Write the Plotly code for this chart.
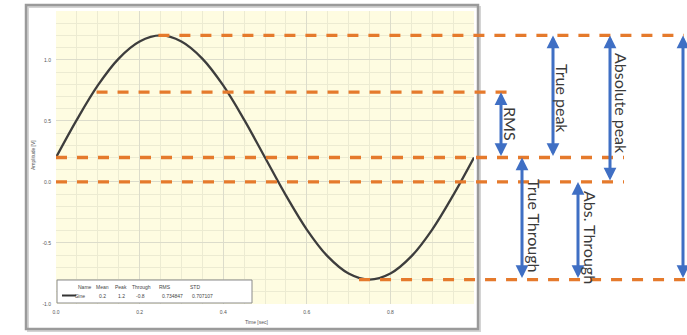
import plotly.graph_objects as go

# ---- data ----
time_s = [0.0, 0.05, 0.1, 0.15, 0.2, 0.25, 0.3, 0.35, 0.4, 0.45, 0.5,
          0.55, 0.6, 0.65, 0.7, 0.75, 0.8, 0.85, 0.9, 0.95, 1.0]
amplitude = [0.2, 0.51, 0.79, 1.01, 1.15, 1.2, 1.15, 1.01, 0.79, 0.51, 0.2,
             -0.11, -0.39, -0.61, -0.75, -0.8, -0.75, -0.61, -0.39, -0.11, 0.2]
stat_names = ["Name", "Mean", "Peak", "Through", "RMS", "STD"]
stat_values = ["Sine", "0.2", "1.2", "-0.8", "0.734847", "0.707107"]
MEAN = 0.2
PEAK = 1.2
TROUGH = -0.8
RMS = 0.734847
ZERO = 0.0
x_ticks = [0.0, 0.2, 0.4, 0.6, 0.8]
x_tick_text = ["0.0", "0.2", "0.4", "0.6", "0.8"]
y_ticks = [-1.0, -0.5, 0.0, 0.5, 1.0]
y_tick_text = ["-1.0", "-0.5", "0.0", "0.5", "1.0"]

# ---- layout geometry (page pixels) ----
FW, FH = 687, 335
L, R, T, B = 56, 474, 11, 304
W, H = R - L, B - T


def px(x):
    return (x - L) / W


def py(y):
    return (B - y) / H


ORANGE = "#E57A2C"
BLUE = "#3F6FC4"
TXT = "#3a3a3a"

fig = go.Figure()
fig.add_trace(go.Scatter(x=time_s, y=amplitude, mode="lines",
                         line=dict(color="#3d3d3d", width=2.3, shape="spline", smoothing=1.0),
                         showlegend=False, hoverinfo="skip"))

shapes = []
# outer panel frame (with a light shadow line)
shapes.append(dict(type="rect", xref="paper", yref="paper", x0=px(28), x1=px(480), y0=py(331), y1=py(7),
                   line=dict(color="#d4d4d4", width=2), fillcolor="rgba(0,0,0,0)", layer="below"))
shapes.append(dict(type="rect", xref="paper", yref="paper", x0=px(26), x1=px(478), y0=py(329), y1=py(5),
                   line=dict(color="#9a9a9a", width=2.5), fillcolor="rgba(0,0,0,0)", layer="below"))

dash = "11px,10px"
# horizontal reference lines: (value, start paper-x, end paper-x)
hlines = [
    (PEAK, 0.245, px(684)),
    (RMS, 0.097, px(516)),
    (MEAN, 0.0, px(624)),
    (ZERO, 0.0, px(624)),
    (TROUGH, 0.725, px(690)),
]
for val, xs, xe in hlines:
    shapes.append(dict(type="line", xref="paper", yref="y", x0=xs, x1=xe, y0=val, y1=val,
                       line=dict(color=ORANGE, width=3.3, dash=dash)))

# legend table box
shapes.append(dict(type="rect", xref="paper", yref="paper", x0=px(57), x1=px(252), y0=py(303), y1=py(280),
                   line=dict(color="#8a8a8a", width=1), fillcolor="white"))
shapes.append(dict(type="line", xref="paper", yref="paper", x0=px(62), x1=px(76), y0=py(295.5), y1=py(295.5),
                   line=dict(color="#333", width=2)))

annotations = []
# double arrows
arrows = [
    (501, RMS, MEAN),
    (553, PEAK, MEAN),
    (610, PEAK, ZERO),
    (683, PEAK, TROUGH),
    (522, MEAN, TROUGH),
    (578, ZERO, TROUGH),
]
for xp, ytop, ybot in arrows:
    annotations.append(dict(xref="paper", yref="y", x=px(xp), y=ytop, axref="pixel", ayref="y",
                            ax=0, ay=ybot, text="", showarrow=True, arrowside="end+start",
                            arrowhead=2, arrowsize=0.85, arrowwidth=3, arrowcolor=BLUE,
                            standoff=0, startstandoff=0))

labels = [
    ("RMS", 510, 124),
    ("True peak", 563, 98),
    ("Absolute peak", 622, 103),
    ("True Through", 535, 225),
    ("Abs. Through", 591, 237),
]
for txt, xp, yp in labels:
    annotations.append(dict(xref="paper", yref="paper", x=px(xp), y=py(yp), text=txt, showarrow=False,
                            textangle=90, font=dict(family="Lato", size=16, color=TXT),
                            xanchor="center", yanchor="middle"))

# legend table texts
hdr_x = [85, 102, 121, 141, 165, 195]
val_x = [80, 102, 121, 140, 172, 202]
for name, xp in zip(stat_names, hdr_x):
    annotations.append(dict(xref="paper", yref="paper", x=px(xp), y=py(286.5), text=name, showarrow=False,
                            font=dict(family="Liberation Sans", size=5, color="#444"),
                            xanchor="center", yanchor="middle"))
for v, xp in zip(stat_values, val_x):
    annotations.append(dict(xref="paper", yref="paper", x=px(xp), y=py(295.5), text=v, showarrow=False,
                            font=dict(family="Liberation Sans", size=5, color="#444"),
                            xanchor="center", yanchor="middle"))

# axis titles
annotations.append(dict(xref="paper", yref="paper", x=px(33), y=py(155), text="Amplitude [V]",
                        showarrow=False, textangle=-90,
                        font=dict(family="Liberation Sans", size=5, color="#555"),
                        xanchor="center", yanchor="middle"))
annotations.append(dict(xref="paper", yref="paper", x=px(256), y=py(322), text="Time [sec]",
                        showarrow=False, font=dict(family="Liberation Sans", size=5, color="#555"),
                        xanchor="center", yanchor="middle"))

fig.update_layout(
    width=FW, height=FH,
    margin=dict(l=L, r=FW - R, t=T, b=FH - B, pad=0),
    paper_bgcolor="white",
    plot_bgcolor="#FEFCE1",
    shapes=shapes,
    annotations=annotations,
    showlegend=False,
    xaxis=dict(range=[0, 1], tickvals=x_ticks, ticktext=x_tick_text, showgrid=True,
               gridcolor="#dcdccb", gridwidth=1, zeroline=False, showline=False, ticks="",
               ticklabelstandoff=4,
               tickfont=dict(family="Liberation Sans", size=5, color="#555"),
               minor=dict(dtick=0.05, showgrid=True, gridcolor="#ecebd2", gridwidth=1)),
    yaxis=dict(range=[-1, 1.4], tickvals=y_ticks, ticktext=y_tick_text, showgrid=True,
               gridcolor="#dcdccb", gridwidth=1, zeroline=False, showline=False, ticks="",
               ticklabelstandoff=4,
               tickfont=dict(family="Liberation Sans", size=5, color="#555"),
               minor=dict(dtick=0.1, showgrid=True, gridcolor="#ecebd2", gridwidth=1)),
)

fig.write_html("out.html",
               config={"displayModeBar": False},
               post_script="document.body.style.margin='0';document.body.style.overflow='hidden';")
